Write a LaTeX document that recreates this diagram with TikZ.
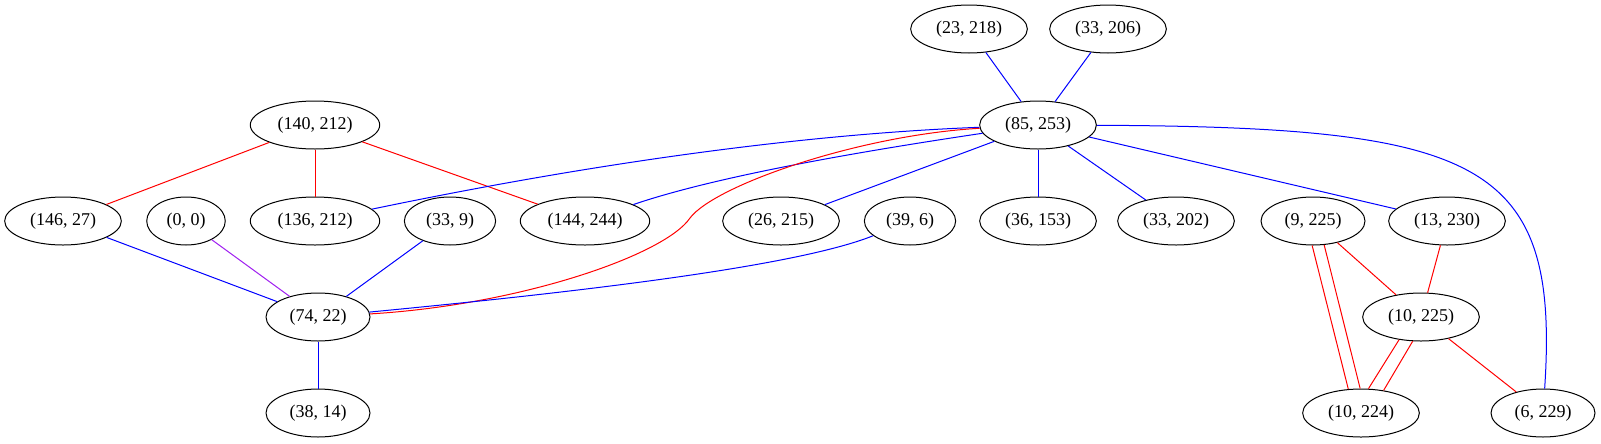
\documentclass[tikz,border=0pt]{standalone}
\usepackage{fontspec}
\setmainfont{Liberation Serif}
\usetikzlibrary{shapes.geometric}
\definecolor{xpurple}{HTML}{A020F0}

\begin{document}
\begin{tikzpicture}[
    x=0.75pt, y=-0.75pt,
    vertex/.style={draw, ellipse, line width=0.75pt, inner xsep=6.2pt, inner ysep=3pt, minimum height=36pt, font=\fontsize{13.5}{16}\selectfont},
    blueedge/.style={draw=blue, line width=0.75pt},
    rededge/.style={draw=red, line width=0.75pt},
    purpleedge/.style={draw=xpurple, line width=0.75pt}
]
    \useasboundingbox (0,0) rectangle (1601,443);

    % Nodes
    \node[vertex] (n23x218) at (969,29) {(23, 218)};
    \node[vertex] (n33x206) at (1108,29) {(33, 206)};
    \node[vertex] (n85x253) at (1038,125) {(85, 253)};
    \node[vertex] (n140x212) at (315,125) {(140, 212)};
    \node[vertex] (n146x27) at (63,221) {(146, 27)};
    \node[vertex] (n0x0) at (186,221) {(0, 0)};
    \node[vertex] (n136x212) at (315,221) {(136, 212)};
    \node[vertex] (n33x9) at (450,221) {(33, 9)};
    \node[vertex] (n144x244) at (585,221) {(144, 244)};
    \node[vertex] (n26x215) at (781,221) {(26, 215)};
    \node[vertex] (n39x6) at (910,221) {(39, 6)};
    \node[vertex] (n36x153) at (1038,221) {(36, 153)};
    \node[vertex] (n33x202) at (1176,221) {(33, 202)};
    \node[vertex] (n9x225) at (1313,221) {(9, 225)};
    \node[vertex] (n13x230) at (1447,221) {(13, 230)};
    \node[vertex] (n74x22) at (318,317) {(74, 22)};
    \node[vertex] (n10x225) at (1421,317) {(10, 225)};
    \node[vertex] (n38x14) at (318,413) {(38, 14)};
    \node[vertex] (n10x224) at (1361,413) {(10, 224)};
    \node[vertex] (n6x229) at (1543,413) {(6, 229)};

    % Edges
    \draw[blueedge] (n23x218) -- (n85x253);
    \draw[blueedge] (n33x206) -- (n85x253);
    \draw[rededge] (n140x212) -- (n146x27);
    \draw[rededge] (n140x212) -- (n136x212);
    \draw[rededge] (n140x212) -- (n144x244);
    \draw[blueedge] (n85x253) .. controls (780,135) and (560,170) .. (n136x212);
    \draw[blueedge] (n85x253) .. controls (870,150) and (720,175) .. (n144x244);
    \draw[rededge] (n85x253) .. controls (860,135) and (715,185) .. (690,218)
        .. controls (665,255) and (520,305) .. (n74x22);
    \draw[blueedge] (n85x253) -- (n26x215);
    \draw[blueedge] (n85x253) -- (n36x153);
    \draw[blueedge] (n85x253) -- (n33x202);
    \draw[blueedge] (n85x253) -- (n13x230);
    \draw[blueedge] (n85x253) .. controls (1480,127) and (1560,160) .. (n6x229);
    \draw[blueedge] (n146x27) -- (n74x22);
    \draw[purpleedge] (n0x0) -- (n74x22);
    \draw[blueedge] (n33x9) -- (n74x22);
    \draw[blueedge] (n39x6) .. controls (800,265) and (600,290) .. (n74x22);
    \draw[blueedge] (n74x22) -- (n38x14);
    \draw[rededge] (n9x225.268) -- (n10x224.118);
    \draw[rededge] (n9x225.295) -- (n10x224.92);
    \draw[rededge] (n9x225) -- (n10x225);
    \draw[rededge] (n13x230) -- (n10x225);
    \draw[rededge] (n10x225.226) -- (n10x224.73);
    \draw[rededge] (n10x225.251) -- (n10x224.45);
    \draw[rededge] (n10x225) -- (n6x229);
\end{tikzpicture}
\end{document}
